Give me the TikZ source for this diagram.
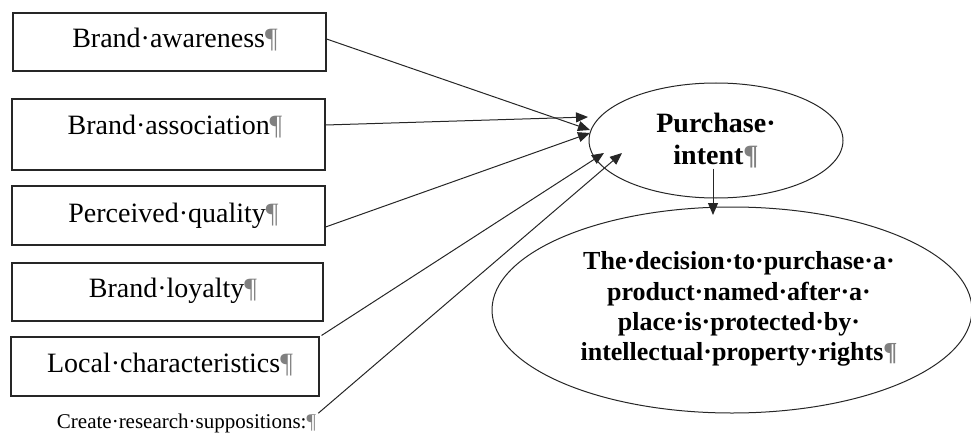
\documentclass[tikz,border=0pt]{standalone}
\usepackage{fontspec}
\setmainfont{Liberation Serif}
\usetikzlibrary{arrows.meta,shapes.geometric,calc}
\newcommand{\pilc}{{\color{black!50}¶}}
\begin{document}
\begin{tikzpicture}[x=1pt,y=-1pt,
  box/.style={draw=black!85, line width=1.1pt, inner sep=0pt, rectangle},
  lbl/.style={font=\fontsize{28}{32}\selectfont, inner sep=0pt, anchor=base},
  small/.style={font=\fontsize{21}{24}\selectfont, inner sep=0pt, anchor=base},
  oval/.style={draw=black!85, ellipse, line width=1pt, inner sep=0pt},
  boldtxt/.style={font=\bfseries\fontsize{28}{32}\selectfont, align=center, inner sep=0pt},
  boldsm/.style={font=\bfseries\fontsize{26}{30.3}\selectfont, align=center, inner sep=0pt},
  arr/.style={draw=black!85, line width=1pt, -{Triangle[length=12pt,width=10pt]}}]
\useasboundingbox (0,0) rectangle (971,433);
% boxes
\node[box, minimum width=313pt, minimum height=58pt] (b1) at (169.5,42) {};
\node[box, minimum width=313pt, minimum height=71pt] (b2) at (168.5,134.5) {};
\node[box, minimum width=313pt, minimum height=59pt] (b3) at (168.5,215.5) {};
\node[box, minimum width=311pt, minimum height=58pt] (b4) at (167.5,292) {};
\node[box, minimum width=308pt, minimum height=59pt] (b5) at (165,366.5) {};
\node[lbl] (t1) at (175,48) {Brand·awareness\pilc};
\node[lbl] (t2) at (175,135) {Brand·association\pilc};
\node[lbl] (t3) at (173.5,222) {Perceived·quality\pilc};
\node[lbl] (t4) at (173,297) {Brand·loyalty\pilc};
\node[lbl] (t5) at (170,372) {Local·characteristics\pilc};
\node[small] (cr) at (186.5,428) {Create·research·suppositions:\pilc};
% ellipses
\node[oval, minimum width=254pt, minimum height=115pt] (pi) at (716,140.5) {};
\node[boldtxt] (pit) at (716,141) {Purchase·\\intent\pilc};
\node[oval, minimum width=480pt, minimum height=206pt] (dec) at (732,310) {};
\node[boldsm] (dect) at (739,309) {The·decision·to·purchase·a·\\product·named·after·a·\\place·is·protected·by·\\intellectual·property·rights\pilc};
% arrow end points
\coordinate (e1) at (590,130);
\coordinate (e2) at (588,117);
\coordinate (e3) at (590,133);
\coordinate (e5) at (604,153);
\coordinate (e6) at (622,153);
\coordinate (e7) at (713,215);
% connectors
\draw[arr] ([yshift=3pt]b1.east) -- (e1);
\draw[arr] ([yshift=9.5pt]b2.east) -- (e2);
\draw[arr] ([yshift=-11.5pt]b3.east) -- (e3);
\draw[arr] ([xshift=2pt,yshift=1pt]b5.north east) -- (e5);
\draw[arr] ([xshift=2pt]cr.north east) -- (e6);
\draw[arr] (pit.south -| e7) -- (e7);
\end{tikzpicture}
\end{document}
